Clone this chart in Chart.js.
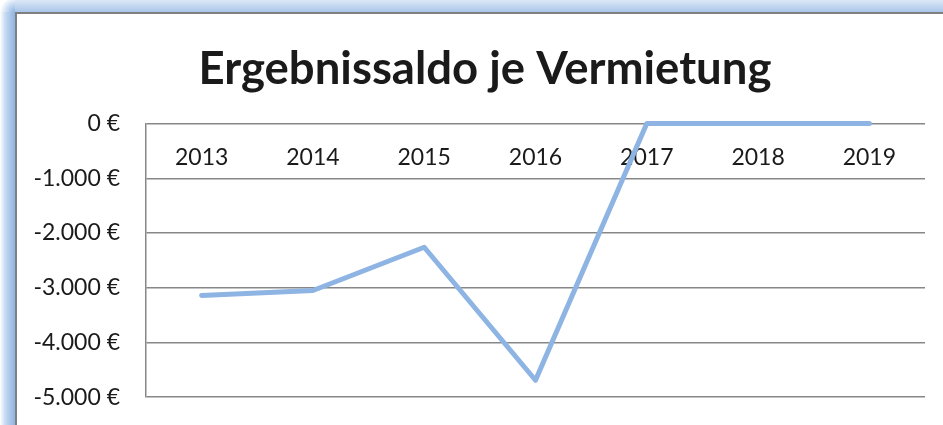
<!DOCTYPE html>
<html>
<head>
<meta charset="utf-8">
<script src="https://cdn.jsdelivr.net/npm/chart.js@4.4.1/dist/chart.umd.min.js"></script>
<style>
  html, body { margin: 0; padding: 0; width: 943px; height: 425px; overflow: hidden; background: #fff; }
  #frame { position: absolute; left: 0; top: 0; width: 943px; height: 425px; overflow: hidden; background: #fff; }
  #leftglow { position: absolute; left: 0; top: 0; width: 15px; height: 425px;
    background: linear-gradient(to right, #ffffff 0px, #c9dbf1 5px, #8db3e2 15px); }
  #topglow { position: absolute; left: 0; top: 0; width: 943px; height: 12px;
    background: linear-gradient(to bottom, #dde8f6 0px, #a9c6ea 12px); }
  #corner { position: absolute; left: 0; top: 0; width: 15px; height: 12px;
    background: radial-gradient(circle at 100% 100%, #8db3e2 0px, #c9dbf1 8px, #ffffff 15px); }
  #box { position: absolute; left: 15px; top: 12px; width: 960px; height: 460px; background: #fff;
    border-top: 2px solid #7f7f7f; border-left: 2px solid #7f7f7f; }
  #wrap { position: absolute; left: 17px; top: 14px; width: 936px; height: 423px; }
</style>
</head>
<body>
<div id="frame">
  <div id="leftglow"></div>
  <div id="topglow"></div>
  <div id="corner"></div>
  <div id="box"></div>
  <div id="wrap"><canvas id="c" width="936" height="423"></canvas></div>
</div>
<script>
const categories = ["2013", "2014", "2015", "2016", "2017", "2018", "2019"];
const saldo = [-3140, -3050, -2260, -4690, 0, 0, 0];
const yTicks = [0, -1000, -2000, -3000, -4000, -5000];
const chartTitle = "Ergebnissaldo je Vermietung";

function fmtEuro(v) {
  const neg = v < 0;
  const s = Math.abs(v).toString().replace(/\B(?=(\d{3})+(?!\d))/g, ".");
  return (neg ? "-" : "") + s + " €";
}

new Chart(document.getElementById("c"), {
  type: "line",
  data: {
    labels: categories,
    datasets: [{
      data: saldo,
      borderColor: "#8eb4e3",
      borderWidth: 5,
      borderCapStyle: "round",
      borderJoinStyle: "round",
      pointRadius: 0,
      pointHoverRadius: 0,
      tension: 0,
      fill: false,
      clip: false
    }]
  },
  options: {
    responsive: false,
    animation: false,
    events: [],
    layout: { padding: { top: 0, left: 0, right: 0, bottom: 19 } },
    plugins: {
      legend: { display: false },
      tooltip: { enabled: false },
      title: {
        display: true,
        text: chartTitle,
        color: "#1a1a1a",
        font: { family: "Lato", size: 45.5, weight: "bold", lineHeight: 1.2 },
        padding: { top: 28, bottom: 27 }
      }
    },
    scales: {
      x: {
        type: "category",
        offset: true,
        position: { y: 0 },
        grid: { display: false, drawTicks: false },
        border: { display: false },
        ticks: {
          color: "#1a1a1a",
          font: { family: "Lato", size: 23 },
          padding: 20,
          maxRotation: 0,
          autoSkip: false
        },
        afterFit: (s) => { s.height = 0; }
      },
      y: {
        type: "linear",
        min: -5000,
        max: 0,
        afterBuildTicks: (s) => { s.ticks = yTicks.map(v => ({ value: v })); },
        grid: { color: "#878787", lineWidth: 1.5, drawTicks: false },
        border: { display: true, color: "#878787", width: 1.5 },
        ticks: {
          color: "#1a1a1a",
          font: { family: "Lato", size: 23 },
          padding: 26,
          callback: (v) => fmtEuro(v)
        },
        afterFit: (s) => { s.width = 129; }
      },
      spacer: {
        type: "linear",
        position: "right",
        display: true,
        grid: { display: false, drawTicks: false },
        border: { display: false },
        ticks: { display: false },
        afterFit: (s) => { s.width = 28; }
      }
    }
  }
});
</script>
</body>
</html>
